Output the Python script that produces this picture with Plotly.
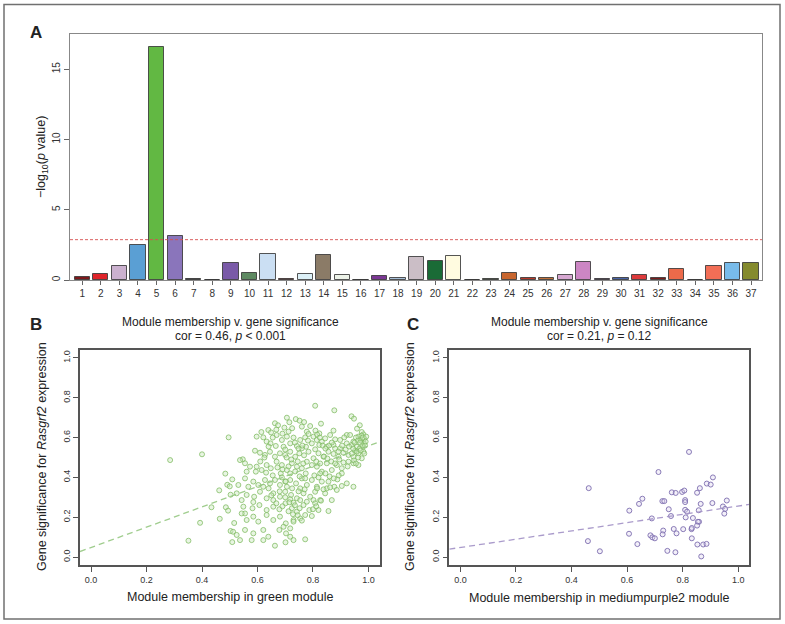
import plotly.graph_objects as go

# ---------------- data ----------------
module_numbers = list(range(1, 38))
module_labels = [str(i) for i in module_numbers]
neg_log10_p = [0.24, 0.40, 1.02, 2.47, 16.6, 3.16, 0.05, 0.02, 1.24, 0.52,
               1.85, 0.10, 0.45, 1.80, 0.36, 0.02, 0.26, 0.17, 1.65, 1.38,
               1.71, 0.02, 0.10, 0.52, 0.17, 0.12, 0.38, 1.26, 0.10, 0.14,
               0.38, 0.17, 0.76, 0.01, 1.02, 1.21, 1.21]
module_colors = ['#7d1a1c', '#e0242a', '#cbb1cf', '#5a9fd4', '#62b843', '#8a75bb', '#2a2a2a',
                 '#3a3a3a', '#7a5aa8', '#5e8a62', '#cbdff3', '#8b1a1a', '#dcf0f7', '#8b7b67',
                 '#edf3e9', '#222222', '#7b3794', '#a7bfd8', '#cbbec6', '#1a6b36', '#fffbe0',
                 '#2b1f4a', '#51673b', '#c8662f', '#b83a2a', '#c0703a', '#d7a8d2', '#cc86c4',
                 '#6b3a7d', '#4a65a8', '#dd3a3c', '#7a1c1c', '#ec6a4a', '#222222', '#f26e56',
                 '#78bbea', '#858b2e']
bonferroni_threshold = 2.87

green_points = [
    (0.496, 0.601), (0.400, 0.516), (0.285, 0.487), (0.484, 0.419), (0.509, 0.390),
    (0.491, 0.363), (0.500, 0.355), (0.462, 0.335), (0.503, 0.313), (0.434, 0.250),
    (0.486, 0.250), (0.494, 0.233), (0.393, 0.172), (0.464, 0.192), (0.516, 0.171),
    (0.503, 0.131), (0.512, 0.127), (0.509, 0.075), (0.351, 0.082),
    (0.808, 0.760), (0.877, 0.737), (0.939, 0.707), (0.948, 0.695), (0.706, 0.700),
    (0.738, 0.693), (0.752, 0.685), (0.768, 0.678),
    (0.663, 0.672), (0.674, 0.662), (0.715, 0.677), (0.760, 0.655), (0.790, 0.658),
    (0.829, 0.670), (0.969, 0.662), (0.959, 0.645), (0.976, 0.628), (0.639, 0.638),
    (0.649, 0.626), (0.614, 0.628), (0.697, 0.650), (0.725, 0.647), (0.778, 0.630),
    (0.809, 0.635), (0.823, 0.621), (0.874, 0.635), (0.922, 0.613),
    (0.597, 0.605), (0.621, 0.601), (0.633, 0.580), (0.669, 0.613), (0.688, 0.588),
    (0.706, 0.605), (0.730, 0.600), (0.754, 0.588), (0.772, 0.601), (0.784, 0.618),
    (0.802, 0.605), (0.814, 0.588), (0.832, 0.580), (0.844, 0.596), (0.862, 0.613),
    (0.880, 0.591), (0.898, 0.588), (0.913, 0.601), (0.934, 0.613), (0.946, 0.580),
    (0.964, 0.605), (0.972, 0.588), (0.982, 0.616), (0.984, 0.571), (0.980, 0.554),
    (0.958, 0.554), (0.940, 0.563), (0.922, 0.571), (0.874, 0.563), (0.850, 0.554),
    (0.823, 0.563), (0.796, 0.571), (0.775, 0.554), (0.742, 0.558), (0.718, 0.571),
    (0.694, 0.554), (0.666, 0.558), (0.647, 0.571),
    (0.591, 0.534), (0.609, 0.524), (0.627, 0.513), (0.645, 0.529), (0.663, 0.504),
    (0.681, 0.521), (0.700, 0.513), (0.718, 0.529), (0.736, 0.504), (0.751, 0.521),
    (0.768, 0.511), (0.784, 0.529), (0.802, 0.496), (0.820, 0.521), (0.838, 0.504),
    (0.856, 0.529), (0.874, 0.518), (0.892, 0.504), (0.910, 0.524), (0.928, 0.513),
    (0.946, 0.504), (0.964, 0.521), (0.976, 0.496), (0.982, 0.529), (0.952, 0.534),
    (0.898, 0.546), (0.808, 0.541), (0.760, 0.546), (0.547, 0.491), (0.537, 0.487),
    (0.555, 0.471), (0.573, 0.454), (0.597, 0.454), (0.615, 0.437), (0.633, 0.462),
    (0.648, 0.446), (0.669, 0.479), (0.688, 0.462), (0.706, 0.437), (0.724, 0.471),
    (0.742, 0.454), (0.760, 0.446), (0.778, 0.479), (0.796, 0.462), (0.814, 0.454),
    (0.832, 0.429), (0.850, 0.471), (0.868, 0.437), (0.886, 0.462), (0.904, 0.446),
    (0.928, 0.479), (0.946, 0.471), (0.964, 0.462), (0.904, 0.420), (0.826, 0.420),
    (0.774, 0.420), (0.718, 0.420), (0.684, 0.420), (0.631, 0.424), (0.594, 0.429),
    (0.561, 0.429),
    (0.555, 0.395), (0.585, 0.379), (0.603, 0.362), (0.627, 0.387), (0.645, 0.370),
    (0.663, 0.387), (0.681, 0.362), (0.700, 0.379), (0.718, 0.387), (0.739, 0.370),
    (0.760, 0.395), (0.778, 0.362), (0.796, 0.387), (0.814, 0.353), (0.832, 0.379),
    (0.856, 0.379), (0.877, 0.353), (0.904, 0.357), (0.922, 0.370), (0.946, 0.353),
    (0.888, 0.390), (0.850, 0.345), (0.754, 0.345), (0.706, 0.353), (0.621, 0.353),
    (0.567, 0.353), (0.531, 0.362),
    (0.525, 0.320), (0.561, 0.312), (0.588, 0.303), (0.609, 0.328), (0.633, 0.295),
    (0.657, 0.320), (0.681, 0.303), (0.700, 0.328), (0.721, 0.312), (0.742, 0.295),
    (0.766, 0.320), (0.790, 0.303), (0.808, 0.328), (0.826, 0.286), (0.844, 0.320),
    (0.868, 0.286), (0.886, 0.337), (0.802, 0.286), (0.754, 0.286), (0.718, 0.290),
    (0.657, 0.286), (0.543, 0.286),
    (0.549, 0.253), (0.582, 0.245), (0.607, 0.261), (0.633, 0.236), (0.657, 0.253),
    (0.679, 0.240), (0.701, 0.270), (0.724, 0.245), (0.742, 0.228), (0.766, 0.261),
    (0.787, 0.236), (0.808, 0.270), (0.829, 0.283), (0.778, 0.278), (0.585, 0.276),
    (0.555, 0.219), (0.730, 0.273), (0.820, 0.236), (0.856, 0.231),
    (0.543, 0.219), (0.561, 0.186), (0.585, 0.203), (0.603, 0.178), (0.633, 0.211),
    (0.657, 0.186), (0.681, 0.203), (0.702, 0.169), (0.730, 0.186), (0.754, 0.194),
    (0.772, 0.211), (0.796, 0.206), (0.694, 0.152),
    (0.525, 0.111), (0.555, 0.136), (0.585, 0.119), (0.621, 0.136), (0.639, 0.102),
    (0.679, 0.136), (0.703, 0.119), (0.718, 0.144), (0.730, 0.178), (0.760, 0.183),
    (0.537, 0.085),
    (0.579, 0.085), (0.621, 0.085), (0.718, 0.102), (0.730, 0.085), (0.663, 0.057),
    (0.701, 0.074), (0.772, 0.089),
    (0.955, 0.600), (0.962, 0.585), (0.970, 0.575), (0.978, 0.560), (0.985, 0.595),
    (0.990, 0.580), (0.975, 0.610), (0.968, 0.545), (0.958, 0.530), (0.988, 0.560),
    (0.950, 0.575), (0.945, 0.545), (0.980, 0.600), (0.992, 0.605), (0.972, 0.535),
    (0.963, 0.500), (0.948, 0.485), (0.985, 0.520), (0.955, 0.470), (0.940, 0.520),
    (0.815, 0.615), (0.825, 0.600), (0.835, 0.560), (0.845, 0.545), (0.858, 0.560),
    (0.868, 0.575), (0.880, 0.545), (0.892, 0.530), (0.905, 0.560), (0.918, 0.540),
    (0.930, 0.555), (0.812, 0.480), (0.826, 0.470), (0.840, 0.505), (0.852, 0.495),
    (0.866, 0.480), (0.880, 0.470), (0.895, 0.490), (0.910, 0.475), (0.925, 0.455),
    (0.805, 0.410), (0.820, 0.400), (0.845, 0.420), (0.860, 0.405), (0.875, 0.395),
    (0.893, 0.410), (0.815, 0.345), (0.838, 0.340), (0.862, 0.350), (0.800, 0.240),
    (0.812, 0.255),
    (0.668, 0.640), (0.690, 0.620), (0.712, 0.630), (0.735, 0.575), (0.748, 0.545),
    (0.762, 0.560), (0.782, 0.585), (0.705, 0.500), (0.722, 0.490), (0.745, 0.480),
    (0.765, 0.470), (0.690, 0.440), (0.712, 0.455), (0.736, 0.430), (0.752, 0.405),
    (0.772, 0.395), (0.688, 0.400), (0.702, 0.380), (0.725, 0.345), (0.748, 0.330),
    (0.770, 0.340), (0.680, 0.330), (0.700, 0.300), (0.715, 0.275), (0.735, 0.260),
    (0.752, 0.245), (0.690, 0.255), (0.712, 0.230), (0.728, 0.215), (0.745, 0.210),
    (0.668, 0.270), (0.650, 0.310), (0.640, 0.345), (0.655, 0.410), (0.672, 0.450),
    (0.625, 0.500), (0.610, 0.480), (0.640, 0.555), (0.655, 0.600), (0.700, 0.540),
]
green_fit = (0.048, 0.51)      # intercept, slope

purple_points = [
    (0.462, 0.346), (0.459, 0.080), (0.502, 0.029), (0.608, 0.233), (0.607, 0.117),
    (0.637, 0.065), (0.643, 0.267), (0.655, 0.293), (0.689, 0.194), (0.684, 0.109),
    (0.691, 0.099), (0.700, 0.094), (0.713, 0.427), (0.727, 0.281), (0.734, 0.281),
    (0.730, 0.133), (0.728, 0.114), (0.745, 0.031), (0.750, 0.240), (0.758, 0.206),
    (0.761, 0.325), (0.775, 0.322), (0.768, 0.141), (0.778, 0.119), (0.774, 0.024),
    (0.798, 0.327), (0.806, 0.334), (0.802, 0.140), (0.809, 0.286), (0.809, 0.276),
    (0.809, 0.237), (0.816, 0.228), (0.811, 0.199), (0.823, 0.528), (0.832, 0.140),
    (0.833, 0.146), (0.837, 0.196), (0.833, 0.094), (0.852, 0.323), (0.862, 0.346),
    (0.858, 0.235), (0.865, 0.267), (0.859, 0.177), (0.855, 0.177), (0.852, 0.158),
    (0.853, 0.063), (0.867, 0.003), (0.874, 0.063), (0.886, 0.066), (0.887, 0.369),
    (0.901, 0.364), (0.909, 0.400), (0.907, 0.271), (0.945, 0.254), (0.953, 0.242),
    (0.950, 0.218), (0.959, 0.284),
]
purple_fit = (0.048, 0.208)

scatter_ticks = [0.0, 0.2, 0.4, 0.6, 0.8, 1.0]
scatter_ticktext = ['0.0', '0.2', '0.4', '0.6', '0.8', '1.0']
bar_yticks = [0, 5, 10, 15]

# ---------------- layout helpers ----------------
W, H = 785, 624
FONT = 'Liberation Sans, Arial, Helvetica, sans-serif'


def fx(p):
    return p / W


def fy(p):
    return 1 - p / H


sc_range = [-0.04, 1.04]

fig = go.Figure()

# Panel A bars
fig.add_trace(go.Bar(
    x=module_numbers, y=neg_log10_p, width=0.82,
    marker=dict(color=module_colors, line=dict(color='rgba(55,55,55,0.85)', width=1)),
    xaxis='x', yaxis='y', showlegend=False, hoverinfo='x+y'))

# Panel B
fig.add_trace(go.Scatter(
    x=[p[0] for p in green_points], y=[p[1] for p in green_points], mode='markers',
    marker=dict(symbol='circle', size=5, color='rgba(205,232,190,0.45)',
                line=dict(width=1, color='rgba(125,185,95,0.75)')),
    xaxis='x2', yaxis='y2', showlegend=False))
fig.add_trace(go.Scatter(
    x=sc_range, y=[green_fit[0] + green_fit[1] * v for v in sc_range], mode='lines',
    line=dict(color='rgba(150,200,130,0.9)', width=1.3, dash='6px,4px'),
    xaxis='x2', yaxis='y2', showlegend=False, hoverinfo='skip'))

# Panel C
fig.add_trace(go.Scatter(
    x=[p[0] for p in purple_points], y=[p[1] for p in purple_points], mode='markers',
    marker=dict(symbol='circle', size=5, color='rgba(225,218,240,0.4)',
                line=dict(width=1, color='rgba(125,110,175,0.9)')),
    xaxis='x3', yaxis='y3', showlegend=False))
fig.add_trace(go.Scatter(
    x=sc_range, y=[purple_fit[0] + purple_fit[1] * v for v in sc_range], mode='lines',
    line=dict(color='rgba(165,150,200,0.95)', width=1.3, dash='6px,4px'),
    xaxis='x3', yaxis='y3', showlegend=False, hoverinfo='skip'))

tickfont = dict(family=FONT, size=10, color='#333')
small_tickfont = dict(family=FONT, size=9, color='#333')

common = dict(showgrid=False, zeroline=False, showline=True, mirror=True, ticks='outside')

fig.update_layout(
    width=W, height=H, autosize=False,
    margin=dict(l=0, r=0, t=0, b=0),
    paper_bgcolor='white', plot_bgcolor='white',
    font=dict(family=FONT, color='#222'),
    bargap=0,
    xaxis=dict(domain=[fx(70), fx(762)], range=[0.34, 37.59], tickvals=module_numbers,
               ticktext=module_labels, ticklen=4, tickcolor='#666', linecolor='#888',
               linewidth=1, tickfont=tickfont, anchor='y', **common),
    yaxis=dict(domain=[fy(280), fy(34)], range=[0, 17.5], tickvals=bar_yticks, tickangle=-90,
               ticklen=5, tickcolor='#666', linecolor='#888', linewidth=1, tickfont=tickfont,
               anchor='x', **common),
    xaxis2=dict(domain=[fx(80), fx(379.5)], range=sc_range, tickvals=scatter_ticks,
                ticktext=scatter_ticktext, ticklen=5, tickcolor='#555', linecolor='#555',
                linewidth=1.5, tickfont=small_tickfont, anchor='y2', **common),
    yaxis2=dict(domain=[fy(565), fy(350)], range=sc_range, tickvals=scatter_ticks,
                ticktext=scatter_ticktext, tickangle=-90, ticklen=5, tickcolor='#555',
                linecolor='#555', linewidth=1.5, tickfont=small_tickfont, anchor='x2', **common),
    xaxis3=dict(domain=[fx(449.3), fx(749.3)], range=sc_range, tickvals=scatter_ticks,
                ticktext=scatter_ticktext, ticklen=5, tickcolor='#555', linecolor='#555',
                linewidth=1.5, tickfont=small_tickfont, anchor='y3', **common),
    yaxis3=dict(domain=[fy(565), fy(350)], range=sc_range, tickvals=scatter_ticks,
                ticktext=scatter_ticktext, tickangle=-90, ticklen=5, tickcolor='#555',
                linecolor='#555', linewidth=1.5, tickfont=small_tickfont, anchor='x3', **common),
)

shapes = [
    dict(type='rect', xref='paper', yref='paper', x0=fx(4), x1=fx(780), y0=fy(619), y1=fy(4.5),
         line=dict(color='#707070', width=1.5), layer='below'),
    dict(type='line', xref='x domain', yref='y', x0=0, x1=1, y0=bonferroni_threshold,
         y1=bonferroni_threshold, line=dict(color='rgba(215,80,80,0.9)', width=1, dash='3px,2px')),
]
fig.update_layout(shapes=shapes)


def ann(text, x, y, size=12, angle=0, bold=False, xanchor='center'):
    if bold:
        text = '<b>' + text + '</b>'
    return dict(text=text, xref='paper', yref='paper', x=fx(x), y=fy(y), showarrow=False,
                xanchor=xanchor, yanchor='middle', textangle=angle,
                font=dict(family=FONT, size=size, color='#222'))


annotations = [
    ann('A', 36, 32, size=17, bold=True),
    ann('B', 36, 324, size=17, bold=True),
    ann('C', 413, 324, size=17, bold=True),
    ann('\u2212log<sub>10</sub>(<i>p</i> value)', 42, 157, size=12.5, angle=-90),
    ann('Module membership v. gene significance', 230, 322, size=12),
    ann('cor = 0.46, <i>p</i> &lt; 0.001', 230, 336, size=12),
    ann('Module membership v. gene significance', 599, 322, size=12),
    ann('cor = 0.21, <i>p</i> = 0.12', 599, 336, size=12),
    ann('Module membership in green module', 230, 597, size=12.5),
    ann('Module membership in mediumpurple2 module', 599, 598, size=12.5),
    ann('Gene significance for <i>Rasgrf2</i> expression', 42, 457, size=12.5, angle=-90),
    ann('Gene significance for <i>Rasgrf2</i> expression', 410, 457, size=12.5, angle=-90),
]
fig.update_layout(annotations=annotations)

fig.write_html('out.html', config={'displayModeBar': False},
               post_script="document.body.style.margin='0';document.body.style.overflow='hidden';")
